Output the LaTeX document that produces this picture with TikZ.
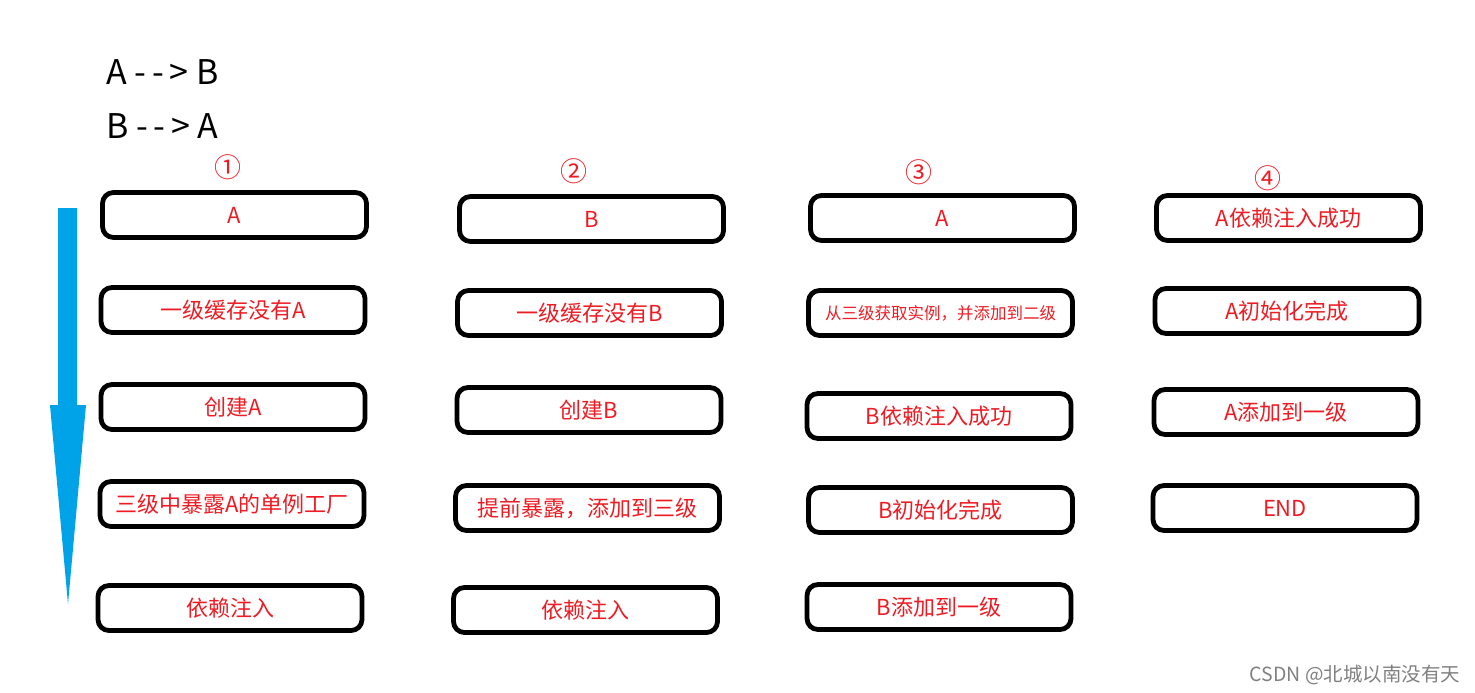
\documentclass[tikz,border=0pt]{standalone}
\usepackage{fontspec}
\setmainfont{Noto Sans CJK SC}
\usetikzlibrary{positioning}
\definecolor{paintblue}{RGB}{0,162,232}
\definecolor{paintred}{RGB}{237,28,36}

\begin{document}
\begin{tikzpicture}[x=1pt,y=-1pt,
    box/.style={draw,line width=4.8pt,rounded corners=11pt,minimum width=264pt,minimum height=45pt,inner sep=0pt,text=paintred,font=\fontsize{22}{24}\selectfont},
    num/.style={text=paintred,font=\fontsize{27}{29}\selectfont}]
		\useasboundingbox (0,0) rectangle (1475,693);
		\node[anchor=west,font=\fontsize{34}{36}\selectfont] (dep1) at (103,72) {A {-}\,{-}\,> B};
		\node[anchor=west,font=\fontsize{34}{36}\selectfont] (dep2) at (103,126) {B {-}\,{-}\,> A};
		\fill[paintblue] (58,208) -- (77,208) -- (77,405) -- (86,405) -- (68,604) -- (50,405) -- (58,405) -- cycle;
		\node[num] (n1) at (228,167) {①};
		\node[num] (n2) at (574,171) {②};
		\node[num] (n3) at (919,172) {③};
		\node[num] (n4) at (1268,178) {④};
		\node[box] (a1) at (234.5,215) {A};
		\node[box] (a2) at (233,310) {一级缓存没有A};
		\node[box] (a3) at (233,407) {创建A};
		\node[box] (a4) at (232,504) {三级中暴露A的单例工厂};
		\node[box] (a5) at (230,608) {依赖注入};
		\node[box] (b1) at (591.5,219) {B};
		\node[box] (b2) at (589.5,313) {一级缓存没有B};
		\node[box] (b3) at (589,410) {创建B};
		\node[box] (b4) at (587.5,508) {提前暴露，添加到三级};
		\node[box] (b5) at (585.5,610) {依赖注入};
		\node[box] (c1) at (942.5,218) {A};
		\node[box,font=\fontsize{16.5}{18}\selectfont] (c2) at (940.5,313) {从三级获取实例，并添加到二级};
		\node[box] (c3) at (939,416) {B依赖注入成功};
		\node[box] (c4) at (940.5,510) {B初始化完成};
		\node[box] (c5) at (939,607) {B添加到一级};
		\node[box] (d1) at (1288.5,218) {A依赖注入成功};
		\node[box] (d2) at (1287,311) {A初始化完成};
		\node[box] (d3) at (1286,412) {A添加到一级};
		\node[box] (d4) at (1285,508) {END};
		\node[text=gray,font=\fontsize{19.5}{21}\selectfont] (wm) at (1355,675) {CSDN @北城以南没有天};
	\end{tikzpicture}
\end{document}
